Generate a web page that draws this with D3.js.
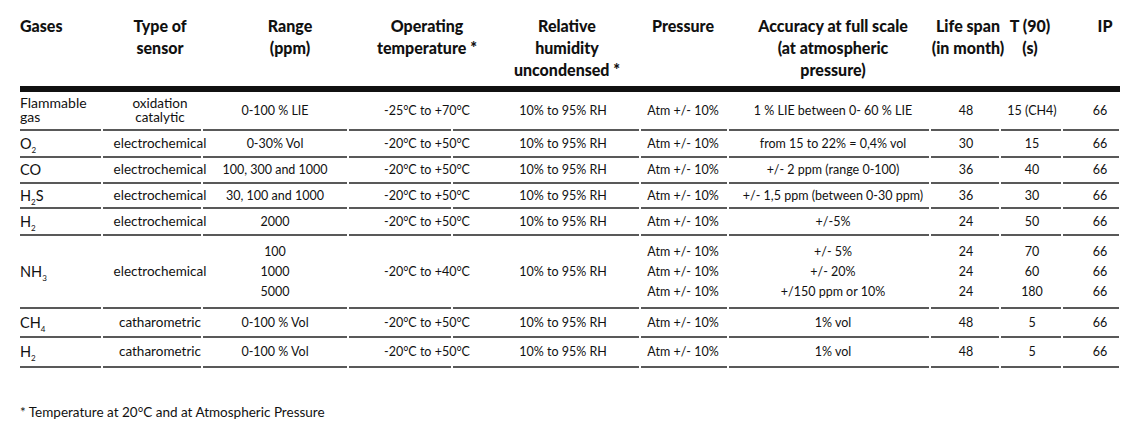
<!DOCTYPE html>
<html><head><meta charset="utf-8">
<script src="https://cdnjs.cloudflare.com/ajax/libs/d3/7.8.5/d3.min.js"></script>
<style>body{margin:0;background:#fff}text{font-family:Lato,"Open Sans",sans-serif;fill:#111}</style>
</head><body><svg id="c" width="1147" height="430"></svg>
<script>
// table contents
var headers = [["Gases"], ["Type of", "sensor"], ["Range", "(ppm)"], ["Operating", "temperature *"],
  ["Relative", "humidity", "uncondensed *"], ["Pressure"], ["Accuracy at full scale", "(at atmospheric", "pressure)"],
  ["Life span", "(in month)"], ["T (90)", "(s)"], ["IP"]];
var headerX = [20, 160, 290, 427, 567, 683, 833, 968, 1030, 1105];
var colX = [20, 160, 275, 427, 563, 683, 833, 966, 1032, 1100];
var gasNames = [["Flammable", "gas"], ["O", "2"], ["CO", ""], ["H", "2", "S"], ["H", "2"], ["NH", "3"], ["CH", "4"], ["H", "2"]];
var sensorTypes = [["oxidation", "catalytic"], ["electrochemical"], ["electrochemical"], ["electrochemical"], ["electrochemical"], ["electrochemical"], ["catharometric"], ["catharometric"]];
var ranges = [["0-100 % LIE"], ["0-30% Vol"], ["100, 300 and 1000"], ["30, 100 and 1000"], ["2000"], ["100", "1000", "5000"], ["0-100 % Vol"], ["0-100 % Vol"]];
var temps = ["-25°C to +70°C", "-20°C to +50°C", "-20°C to +50°C", "-20°C to +50°C", "-20°C to +50°C", "-20°C to +40°C", "-20°C to +50°C", "-20°C to +50°C"];
var humidity = ["10% to 95% RH", "10% to 95% RH", "10% to 95% RH", "10% to 95% RH", "10% to 95% RH", "10% to 95% RH", "10% to 95% RH", "10% to 95% RH"];
var pressures = [["Atm +/- 10%"], ["Atm +/- 10%"], ["Atm +/- 10%"], ["Atm +/- 10%"], ["Atm +/- 10%"], ["Atm +/- 10%", "Atm +/- 10%", "Atm +/- 10%"], ["Atm +/- 10%"], ["Atm +/- 10%"]];
var accuracy = [["1 % LIE between 0- 60 % LIE"], ["from 15 to 22% = 0,4% vol"], ["+/- 2 ppm (range 0-100)"], ["+/- 1,5 ppm (between 0-30 ppm)"], ["+/-5%"], ["+/- 5%", "+/- 20%", "+/150 ppm or 10%"], ["1% vol"], ["1% vol"]];
var lifeSpan = [["48"], ["30"], ["36"], ["36"], ["24"], ["24", "24", "24"], ["48"], ["48"]];
var t90 = [["15 (CH4)"], ["15"], ["40"], ["30"], ["50"], ["70", "60", "180"], ["5"], ["5"]];
var ipRating = [["66"], ["66"], ["66"], ["66"], ["66"], ["66", "66", "66"], ["66"], ["66"]];
var rowEdges = [92, 130, 157, 183, 208, 235, 308, 337, 367];
var colEdges = [20, 102, 202, 348, 452, 640, 728, 930, 1000, 1062, 1120];

var svg = d3.select("#c");

// header
headers.forEach(function(lines, i) {
  var t = svg.append("text").attr("x", headerX[i]).attr("y", 32)
    .attr("text-anchor", i === 0 ? "start" : "middle")
    .style("font-weight", "900").style("font-size", "16px");
  lines.forEach(function(l, j) { t.append("tspan").attr("x", headerX[i]).attr("dy", j ? 22 : 0).text(l); });
});
svg.append("rect").attr("x", 20).attr("y", 86).attr("width", 1100).attr("height", 6).attr("fill", "#111");

// row separators, broken at column edges
rowEdges.slice(1).forEach(function(y) {
  for (var k = 0; k < colEdges.length - 1; k++) {
    svg.append("line").attr("x1", colEdges[k] + (k ? 1 : 0)).attr("x2", colEdges[k + 1] - 1)
      .attr("y1", y).attr("y2", y).attr("stroke", "#222").attr("stroke-width", 1.3);
  }
});

function cellLines(x, r, lines, anchor, size) {
  var top = rowEdges[r], bot = rowEdges[r + 1], mid = (top + bot) / 2;
  var step = lines.length > 2 ? 20 : 14;
  lines.forEach(function(l, j) {
    svg.append("text").attr("x", x).attr("y", mid + 4 + (j - (lines.length - 1) / 2) * step)
      .attr("text-anchor", anchor || "middle").style("font-size", size || "12.5px").text(l);
  });
}

gasNames.forEach(function(g, r) {
  var top = rowEdges[r], bot = rowEdges[r + 1], mid = (top + bot) / 2;
  if (r === 0) { cellLines(20, r, g, "start", "14px"); return; }
  var t = svg.append("text").attr("x", 20).attr("y", mid + 5).style("font-size", "14.5px");
  t.append("tspan").text(g[0]);
  if (g[1]) t.append("tspan").attr("dy", 4).style("font-size", "8px").text(g[1]);
  if (g[2]) t.append("tspan").attr("dy", -4).text(g[2]);
});
var cols = [sensorTypes, ranges, temps.map(function(d) { return [d]; }), humidity.map(function(d) { return [d]; }),
  pressures, accuracy, lifeSpan, t90, ipRating];
cols.forEach(function(col, c) {
  col.forEach(function(lines, r) { cellLines(colX[c + 1], r, lines, "middle", c === 0 ? "13.5px" : null); });
});

svg.append("text").attr("x", 20).attr("y", 417).style("font-size", "13.5px").text("* Temperature at 20°C and at Atmospheric Pressure");
</script></body></html>
